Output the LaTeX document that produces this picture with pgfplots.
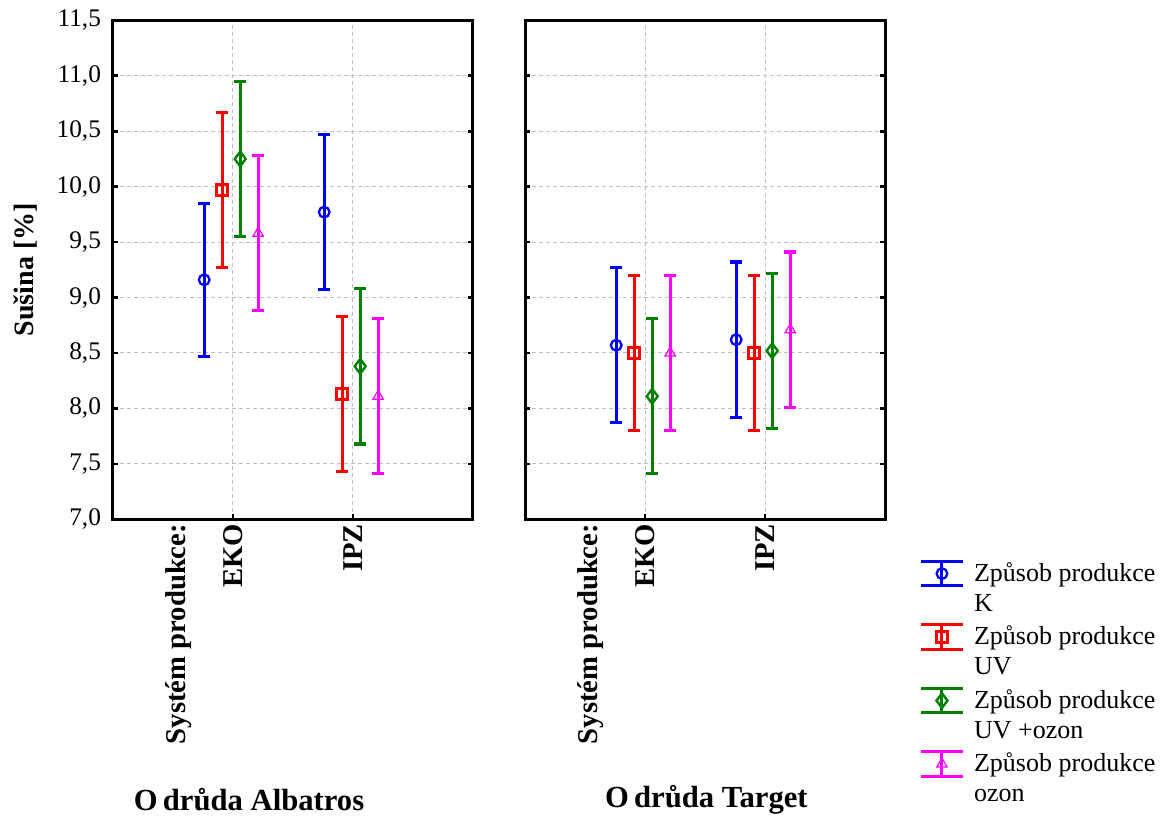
\documentclass[border=0pt]{standalone}
\usepackage{fontspec}
\setmainfont{Liberation Serif}
\usepackage{pgfplots}
\pgfplotsset{compat=1.18}
\definecolor{cK}{RGB}{0,0,255}
\definecolor{cUV}{RGB}{255,0,0}
\definecolor{cUVO}{RGB}{0,128,0}
\definecolor{cO}{RGB}{255,0,255}
\pgfplotsset{
  panel/.style={
    scale only axis, width=270pt, height=374.25pt,
    xmin=0, xmax=3, ymin=7, ymax=11.5,
    xtick={1,2}, xticklabels={EKO,IPZ},
    extra x ticks={0.55}, extra x tick labels={Systém produkce:},
    extra x tick style={grid=none, major tick length=0pt},
    ytick={7,7.5,8,8.5,9,9.5,10,10.5,11,11.5},
    grid=major,
    major grid style={color=black!25, line width=0.75pt, dash pattern=on 3pt off 2.25pt},
    axis line style={line width=2.25pt},
    major tick length=4pt,
    tick style={line width=2pt, black},
    xtick pos=bottom, ytick pos=both, tick align=inside,
    xticklabel style={rotate=90, anchor=east, font=\fontsize{21.5}{24}\selectfont\bfseries},
    yticklabel style={font=\fontsize{19}{22}\selectfont, xshift=-5.5pt},
    /pgf/number format/.cd, fixed, fixed zerofill, precision=1, use comma, assume math mode=true,
    /pgfplots/.cd,
    xlabel style={font=\fontsize{23}{27}\selectfont\bfseries, anchor=center},
    ylabel style={font=\fontsize{21}{24}\selectfont\bfseries, anchor=center},
    clip=false,
  },
  errbase/.style={
    color=#1, only marks,
    error bars/.cd, y dir=both, y explicit, error mark=-,
    error mark options={rotate=90, mark size=4.5pt, line width=2.4pt, color=#1},
    error bar style={line width=2.4pt, color=#1},
    /pgfplots/.cd,
  },
  legsym/.style n args={3}{legend image code/.code={
    \draw[color=#1, line width=2.2pt] (0pt,1.3pt) -- (31pt,1.3pt) (0pt,19.7pt) -- (31pt,19.7pt) (15.5pt,1.3pt) -- (15.5pt,19.7pt);
    \draw[color=#1, mark=#2, #3] plot coordinates {(15.5pt,10.5pt)};
  }},
  sK/.style={errbase=cK, mark=o, mark size=4pt, mark options={line width=1.7pt}, legsym={cK}{o}{mark size=4pt, line width=1.7pt}},
  sUV/.style={errbase=cUV, mark=square, mark size=4pt, mark options={line width=2.2pt}, legsym={cUV}{square}{mark size=4pt, line width=2.2pt}},
  sUVO/.style={errbase=cUVO, mark=diamond, mark size=5.5pt, mark options={line width=1.8pt}, legsym={cUVO}{diamond}{mark size=5.5pt, line width=1.8pt}},
  sO/.style={errbase=cO, mark=triangle, mark size=4.5pt, mark options={line width=0.9pt}, legsym={cO}{triangle}{mark size=4.5pt, line width=0.9pt}},
}
\begin{document}
\begin{tikzpicture}
\useasboundingbox (-84.75pt,-224.8pt) rectangle (791.25pt,389.5pt);
% Left panel: Odruda Albatros
\begin{axis}[panel, at={(0pt,0pt)}, anchor=south west,
  xlabel={O\,drůda Albatros},
  xlabel style={at={(axis description cs:0.378,-0.5625)}},
  ylabel={Sušina [\%]},
  ylabel style={at={(axis description cs:-0.244,0.5)}},
]
\addplot+[sK] coordinates {(0.76,9.16) +- (0,0.69) (1.76,9.77) +- (0,0.70)};
\addplot+[sUV] coordinates {(0.91,9.97) +- (0,0.70) (1.91,8.13) +- (0,0.70)};
\addplot+[sUVO] coordinates {(1.06,10.25) +- (0,0.70) (2.06,8.38) +- (0,0.70)};
\addplot+[sO] coordinates {(1.21,9.58) +- (0,0.70) (2.21,8.11) +- (0,0.70)};
\end{axis}
% Right panel: Odruda Target
\begin{axis}[panel, at={(309pt,0pt)}, anchor=south west,
  yticklabels={},
  xlabel={O\,drůda Target},
  xlabel style={at={(axis description cs:0.504,-0.5625)}},
  legend style={at={(axis description cs:1.096,-0.08)}, anchor=north west,
    draw=none, fill=none, font=\fontsize{19.5}{22.5}\selectfont,
    cells={anchor=west, align=left}, row sep=5.5pt, inner sep=0pt,
    /tikz/every odd column/.append style={column sep=5.5pt}},
]
\addplot+[sK] coordinates {(0.76,8.57) +- (0,0.70) (1.76,8.62) +- (0,0.70)};
\addlegendentry{Způsob produkce\\K}
\addplot+[sUV] coordinates {(0.91,8.50) +- (0,0.70) (1.91,8.50) +- (0,0.70)};
\addlegendentry{Způsob produkce\\UV}
\addplot+[sUVO] coordinates {(1.06,8.11) +- (0,0.70) (2.06,8.52) +- (0,0.70)};
\addlegendentry{Způsob produkce\\UV +ozon}
\addplot+[sO] coordinates {(1.21,8.50) +- (0,0.70) (2.21,8.71) +- (0,0.70)};
\addlegendentry{Způsob produkce\\ozon}
\end{axis}
\end{tikzpicture}
\end{document}
